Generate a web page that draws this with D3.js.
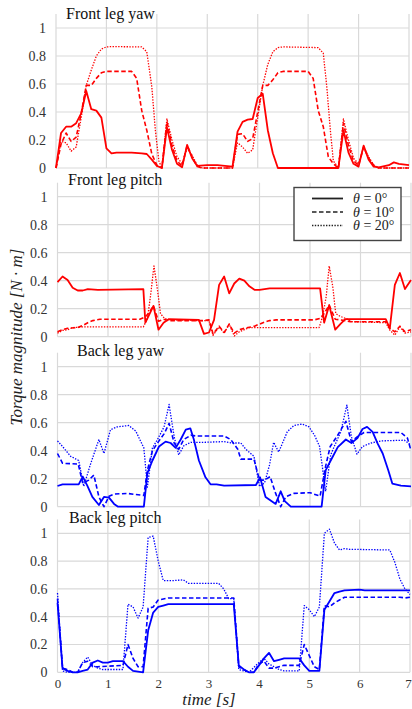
<!DOCTYPE html>
<html>
<head>
<meta charset="utf-8">
<script src="https://cdn.jsdelivr.net/npm/d3@7"></script>
<style>
  body { margin: 0; background: #fff; }
  #container { width: 412px; height: 709px; }
  text { font-family: "Liberation Serif", "Times New Roman", serif; }
</style>
</head>
<body>
<div id="container"></div>
<script>
// tick values and labels
const xTicks = [0, 1, 2, 3, 4, 5, 6, 7];
const yTicks = [0, 0.2, 0.4, 0.6, 0.8, 1];
const panelTitles = ["Front leg yaw", "Front leg pitch", "Back leg yaw", "Back leg pitch"];
const legendLabels = ["0°", "10°", "20°"];

// [time s, torque N·m]
const frontYaw0 = [[0,0],[0.1,0.25],[0.2,0.295],[0.3,0.295],[0.4,0.32],[0.5,0.39],[0.6,0.55],[0.7,0.42],[0.8,0.41],[0.9,0.36],[1.0,0.14],[1.1,0.105],[1.2,0.11],[1.5,0.11],[1.7,0.105],[1.8,0.1],[1.9,0.06],[2.0,0.015],[2.1,0],[2.2,0.29],[2.3,0.13],[2.4,0.03],[2.5,0.005],[2.6,0.165],[2.7,0.07],[2.8,0.015],[3.0,0.02],[3.2,0.02],[3.5,0.01],[3.6,0.26],[3.7,0.33],[3.8,0.345],[3.9,0.35],[4.0,0.5],[4.1,0.53],[4.2,0.27],[4.3,0.105],[4.4,0],[5.6,0],[5.7,0.27],[5.8,0.11],[5.9,0.03],[6.0,0.01],[6.1,0.16],[6.2,0.06],[6.3,0.01],[6.4,0.005],[6.6,0.02],[6.7,0.04],[6.8,0.03],[7.0,0.02]];
const frontYaw10 = [[0,0],[0.1,0.17],[0.2,0.25],[0.3,0.19],[0.4,0.22],[0.5,0.39],[0.6,0.59],[0.7,0.59],[0.8,0.64],[0.9,0.68],[1.0,0.69],[1.5,0.69],[1.6,0.64],[1.7,0.41],[1.8,0.27],[1.9,0.1],[2.0,0.02],[2.1,0],[2.2,0.33],[2.3,0.16],[2.4,0.05],[2.5,0.015],[2.6,0.16],[2.7,0.08],[2.8,0.01],[2.9,0],[3.5,0],[3.6,0.24],[3.7,0.245],[3.8,0.19],[3.9,0.21],[4.0,0.4],[4.1,0.59],[4.2,0.59],[4.3,0.63],[4.4,0.68],[4.5,0.69],[5.0,0.69],[5.1,0.64],[5.2,0.41],[5.3,0.295],[5.4,0.08],[5.5,0.03],[5.6,0],[5.7,0.32],[5.8,0.16],[5.9,0.05],[6.0,0.02],[6.1,0.15],[6.2,0.07],[6.3,0.02],[6.4,0],[7.0,0]];
const frontYaw20 = [[0,0],[0.1,0.19],[0.2,0.18],[0.3,0.12],[0.4,0.15],[0.5,0.36],[0.6,0.59],[0.7,0.7],[0.8,0.8],[0.9,0.85],[1.0,0.865],[1.1,0.867],[1.7,0.865],[1.8,0.83],[1.9,0.58],[1.97,0.27],[2.04,0.05],[2.1,0],[2.2,0.35],[2.3,0.2],[2.4,0.08],[2.5,0.03],[2.6,0.14],[2.7,0.09],[2.8,0.02],[2.9,0],[3.5,0],[3.6,0.18],[3.7,0.15],[3.8,0.105],[3.9,0.13],[4.0,0.36],[4.1,0.59],[4.2,0.74],[4.3,0.83],[4.4,0.86],[4.5,0.865],[5.2,0.86],[5.3,0.82],[5.37,0.58],[5.44,0.27],[5.5,0.05],[5.6,0],[5.7,0.35],[5.8,0.2],[5.9,0.07],[6.0,0.03],[6.1,0.15],[6.2,0.08],[6.3,0.02],[6.4,0],[7.0,0]];

const frontPitch0 = [[0,0.39],[0.1,0.43],[0.2,0.405],[0.3,0.35],[0.4,0.33],[0.5,0.33],[0.6,0.34],[0.8,0.335],[1.7,0.34],[1.74,0.1],[1.9,0.22],[2.0,0.05],[2.1,0.1],[2.2,0.125],[2.8,0.12],[2.9,0.02],[3.0,0.03],[3.1,0.12],[3.2,0.37],[3.3,0.43],[3.4,0.31],[3.5,0.38],[3.6,0.415],[3.7,0.4],[3.8,0.36],[3.9,0.335],[4.0,0.335],[4.2,0.345],[5.2,0.345],[5.28,0.1],[5.38,0.225],[5.5,0.05],[5.6,0.09],[5.7,0.125],[6.5,0.125],[6.58,0.06],[6.68,0.37],[6.78,0.455],[6.88,0.34],[7.0,0.405]];
const frontPitch10 = [[0,0.035],[0.1,0.05],[0.2,0.06],[0.4,0.065],[0.5,0.08],[0.6,0.1],[0.7,0.115],[0.84,0.125],[1.63,0.125],[1.73,0.14],[1.8,0.165],[1.9,0.22],[2.0,0.11],[2.1,0.125],[2.2,0.115],[2.9,0.115],[3.0,0.12],[3.08,0.02],[3.2,0.075],[3.3,0.03],[3.4,0.09],[3.5,0.025],[3.6,0.05],[3.7,0.06],[3.9,0.075],[4.0,0.09],[4.1,0.105],[4.2,0.115],[4.33,0.12],[5.08,0.12],[5.2,0.13],[5.28,0.165],[5.38,0.225],[5.5,0.125],[5.6,0.12],[5.7,0.115],[5.8,0.107],[6.5,0.107],[6.58,0.06],[6.68,0.035],[6.78,0.075],[6.88,0.035],[7.0,0.05]];
const frontPitch20 = [[0,0.025],[0.1,0.045],[0.2,0.05],[0.3,0.065],[0.5,0.07],[1.7,0.07],[1.78,0.13],[1.84,0.285],[1.91,0.505],[1.97,0.36],[2.04,0.165],[2.12,0.13],[2.22,0.12],[2.82,0.115],[3.0,0.115],[3.08,0.01],[3.2,0.07],[3.3,0.025],[3.4,0.09],[3.5,0.005],[3.6,0.035],[3.7,0.05],[3.8,0.065],[5.18,0.065],[5.25,0.145],[5.32,0.285],[5.38,0.505],[5.45,0.36],[5.51,0.165],[5.6,0.145],[5.71,0.13],[5.84,0.107],[6.5,0.1],[6.58,0.048],[6.68,0.012],[6.78,0.07],[6.88,0.025],[7.0,0.035]];

const backYaw0 = [[0,0.148],[0.1,0.16],[0.42,0.16],[0.5,0.215],[0.59,0.15],[0.69,0.07],[0.82,0.012],[0.92,0.07],[1.02,0.065],[1.12,0.02],[1.2,0],[1.71,0],[1.78,0.24],[1.88,0.33],[2.01,0.43],[2.14,0.465],[2.24,0.455],[2.34,0.42],[2.44,0.48],[2.54,0.55],[2.63,0.56],[2.7,0.48],[2.8,0.33],[2.93,0.21],[3.03,0.16],[3.15,0.16],[3.3,0.15],[3.93,0.155],[4.01,0.21],[4.12,0.07],[4.32,0.02],[4.42,0.11],[4.5,0.04],[4.62,0],[5.23,0],[5.31,0.26],[5.41,0.33],[5.55,0.425],[5.71,0.48],[5.82,0.455],[5.94,0.49],[6.04,0.555],[6.13,0.57],[6.24,0.535],[6.34,0.45],[6.44,0.38],[6.55,0.26],[6.63,0.165],[6.8,0.15],[7.0,0.145]];
const backYaw10 = [[0,0.38],[0.1,0.31],[0.41,0.305],[0.5,0.167],[0.62,0.19],[0.72,0.226],[0.82,0.07],[0.92,0],[1.02,0.075],[1.12,0.09],[1.38,0.095],[1.71,0.08],[1.78,0.26],[1.88,0.4],[2.01,0.47],[2.11,0.52],[2.21,0.595],[2.31,0.455],[2.4,0.41],[2.5,0.48],[2.64,0.51],[2.75,0.505],[3.3,0.505],[3.43,0.48],[3.57,0.41],[3.63,0.34],[3.89,0.34],[4.0,0.19],[4.1,0.19],[4.21,0.215],[4.32,0.095],[4.42,0],[4.52,0.07],[4.68,0.095],[5.0,0.1],[5.2,0.075],[5.31,0.29],[5.4,0.43],[5.54,0.505],[5.71,0.61],[5.82,0.465],[5.94,0.5],[6.07,0.53],[6.8,0.53],[6.93,0.49],[7.0,0.4]];
const backYaw20 = [[0,0.47],[0.1,0.43],[0.26,0.36],[0.42,0.33],[0.52,0.145],[0.65,0.3],[0.82,0.48],[0.92,0.38],[1.05,0.55],[1.18,0.57],[1.41,0.58],[1.55,0.54],[1.71,0.42],[1.78,0.14],[1.88,0.42],[1.98,0.48],[2.11,0.57],[2.21,0.73],[2.31,0.5],[2.4,0.37],[2.5,0.435],[2.64,0.46],[2.9,0.46],[3.3,0.465],[3.46,0.455],[3.63,0.455],[3.73,0.41],[3.89,0.36],[4.0,0.145],[4.1,0.17],[4.2,0.3],[4.28,0.46],[4.38,0.39],[4.55,0.535],[4.68,0.58],[4.85,0.59],[4.98,0.57],[5.09,0.51],[5.19,0.43],[5.31,0.11],[5.41,0.37],[5.48,0.43],[5.61,0.535],[5.73,0.726],[5.82,0.5],[5.93,0.375],[6.04,0.43],[6.21,0.455],[6.41,0.47],[6.87,0.475],[7.0,0.44]];

const backPitch0 = [[0,0.5],[0.1,0.03],[0.2,0.01],[0.3,0],[0.4,0],[0.5,0.01],[0.6,0.02],[0.7,0.07],[0.8,0.085],[0.9,0.07],[1.0,0.07],[1.1,0.08],[1.3,0.08],[1.4,0.04],[1.5,0.01],[1.7,0],[1.8,0.3],[1.9,0.43],[2.0,0.47],[2.1,0.48],[2.2,0.49],[3.5,0.49],[3.6,0.05],[3.7,0.02],[3.8,0],[3.9,0],[4.0,0.05],[4.1,0.1],[4.2,0.14],[4.3,0.08],[4.4,0.09],[4.5,0.1],[4.8,0.1],[4.9,0.05],[5.0,0.01],[5.2,0.01],[5.3,0.45],[5.4,0.51],[5.5,0.57],[5.6,0.58],[5.7,0.59],[6.0,0.595],[6.1,0.59],[7.0,0.59]];
const backPitch10 = [[0,0.53],[0.1,0.03],[0.2,0.02],[0.3,0],[0.4,0],[0.5,0.07],[0.6,0.08],[0.7,0.04],[0.8,0.04],[1.3,0.05],[1.4,0.2],[1.5,0.1],[1.6,0.04],[1.7,0.04],[1.8,0.46],[1.9,0.47],[2.0,0.52],[2.2,0.535],[3.5,0.535],[3.6,0.04],[3.7,0.02],[3.8,0],[3.9,0],[4.0,0.06],[4.1,0.08],[4.2,0.03],[4.3,0.03],[4.5,0.05],[4.8,0.05],[4.9,0.2],[5.0,0.12],[5.1,0.04],[5.2,0.02],[5.3,0.48],[5.4,0.47],[5.5,0.5],[5.6,0.52],[5.7,0.54],[6.8,0.54],[6.9,0.535],[7.0,0.54]];
const backPitch20 = [[0,0.57],[0.1,0.01],[0.2,0],[0.4,0],[0.5,0.07],[0.6,0.11],[0.7,0.05],[0.8,0.03],[0.9,0.02],[1.3,0.02],[1.4,0.49],[1.5,0.47],[1.6,0.39],[1.7,0.47],[1.8,0.97],[1.9,0.98],[2.0,0.8],[2.1,0.66],[2.3,0.66],[2.5,0.665],[2.6,0.64],[3.2,0.64],[3.3,0.6],[3.4,0.53],[3.5,0.53],[3.6,0.02],[3.8,0],[4.0,0.07],[4.1,0.1],[4.2,0.06],[4.4,0.02],[4.5,0.01],[4.8,0.01],[4.9,0.48],[5.0,0.45],[5.1,0.4],[5.2,0.47],[5.3,1.0],[5.4,1.03],[5.5,0.93],[5.6,0.88],[5.7,0.89],[5.8,0.885],[6.6,0.88],[6.7,0.79],[6.8,0.67],[6.9,0.6],[7.0,0.56]];

const panelSeries = [
  [frontYaw0, frontYaw10, frontYaw20],
  [frontPitch0, frontPitch10, frontPitch20],
  [backYaw0, backYaw10, backYaw20],
  [backPitch0, backPitch10, backPitch20]
];
const panelColors = ["#ff0000", "#ff0000", "#0000ff", "#0000ff"];

// layout (pixels)
const width = 412;
const height = 709;
const panelBox = [
  { left: 56, right: 409, zero: 168, one: 28, titleX: 66, titleY: 19 },
  { left: 57.5, right: 411, zero: 336.7, one: 196.7, titleX: 68, titleY: 185 },
  { left: 57.5, right: 411, zero: 506.7, one: 366.7, titleX: 77, titleY: 356 },
  { left: 57.5, right: 410, zero: 672.3, one: 533.3, titleX: 69, titleY: 523 }
];
const lineStyles = [
  { dash: null, w: 1.8 },
  { dash: "4.5,2.5", w: 1.6 },
  { dash: "1.4,1.4", w: 1.3 }
];

const svg = d3.select("#container").append("svg")
  .attr("width", width)
  .attr("height", height);

panelBox.forEach((b, p) => {
  const x = d3.scaleLinear().domain([0, 7]).range([b.left, b.right]);
  const y = d3.scaleLinear().domain([0, 1]).range([b.zero, b.one]);
  const g = svg.append("g");

  // grid
  g.selectAll(".vgrid").data(xTicks).enter().append("line")
    .attr("x1", d => x(d)).attr("x2", d => x(d))
    .attr("y1", y(1.1)).attr("y2", y(0))
    .attr("stroke", "#d9d9d9").attr("stroke-width", 1.2);
  g.selectAll(".hgrid").data(yTicks).enter().append("line")
    .attr("x1", x(0)).attr("x2", x(7))
    .attr("y1", d => y(d)).attr("y2", d => y(d))
    .attr("stroke", "#d9d9d9").attr("stroke-width", 1.2);

  // y axis labels
  const yAxis = d3.axisLeft(y).tickValues(yTicks).tickSize(0).tickPadding(10)
    .tickFormat(d3.format("~g"));
  g.append("g").attr("transform", `translate(${x(0)},0)`).call(yAxis)
    .call(a => a.select(".domain").remove())
    .call(a => a.selectAll("text").attr("font-size", 14).attr("fill", "#333"));

  if (p === 3) {
    const xAxis = d3.axisBottom(x).tickValues(xTicks).tickSize(0).tickPadding(6)
      .tickFormat(d3.format("d"));
    g.append("g").attr("transform", `translate(0,${y(0)})`).call(xAxis)
      .call(a => a.select(".domain").remove())
      .call(a => a.selectAll("text").attr("font-size", 13).attr("fill", "#333"))
      .call(a => a.selectAll(".tick").filter(d => d === 7).select("text")
        .attr("text-anchor", "end").attr("dx", "0.1em"));
  }

  // title
  g.append("text").attr("x", b.titleX).attr("y", b.titleY)
    .attr("font-size", 16).attr("fill", "#111").text(panelTitles[p]);

  const line = d3.line().x(d => x(d[0])).y(d => y(d[1]));
  panelSeries[p].forEach((s, i) => {
    g.append("path").datum(s)
      .attr("d", line)
      .attr("fill", "none")
      .attr("stroke", panelColors[p])
      .attr("stroke-width", lineStyles[i].w)
      .attr("stroke-dasharray", lineStyles[i].dash)
      .attr("stroke-linejoin", "round");
  });
});

// axis titles
svg.append("text")
  .attr("transform", "translate(22,337) rotate(-90)")
  .attr("text-anchor", "middle")
  .attr("font-size", 17).attr("font-style", "italic").attr("fill", "#222")
  .text("Torque magnitude [N · m]");

svg.append("text")
  .attr("x", 209).attr("y", 705)
  .attr("text-anchor", "middle")
  .attr("font-size", 17).attr("font-style", "italic").attr("fill", "#222")
  .text("time [s]");

// legend
const legend = svg.append("g");
legend.append("rect")
  .attr("x", 294).attr("y", 187.5).attr("width", 107).attr("height", 53)
  .attr("fill", "#fff").attr("stroke", "#444").attr("stroke-width", 1.4);
legendLabels.forEach((lab, i) => {
  const ly = 198.5 + i * 13.5;
  legend.append("line")
    .attr("x1", 312).attr("x2", 343).attr("y1", ly).attr("y2", ly)
    .attr("stroke", "#222").attr("stroke-width", lineStyles[i].w)
    .attr("stroke-dasharray", lineStyles[i].dash);
  const t = legend.append("text").attr("x", 353).attr("y", ly + 4.5)
    .attr("font-size", 14).attr("fill", "#222");
  t.append("tspan").attr("font-style", "italic").text("θ");
  t.append("tspan").text(" = " + lab);
});
</script>
</body>
</html>
